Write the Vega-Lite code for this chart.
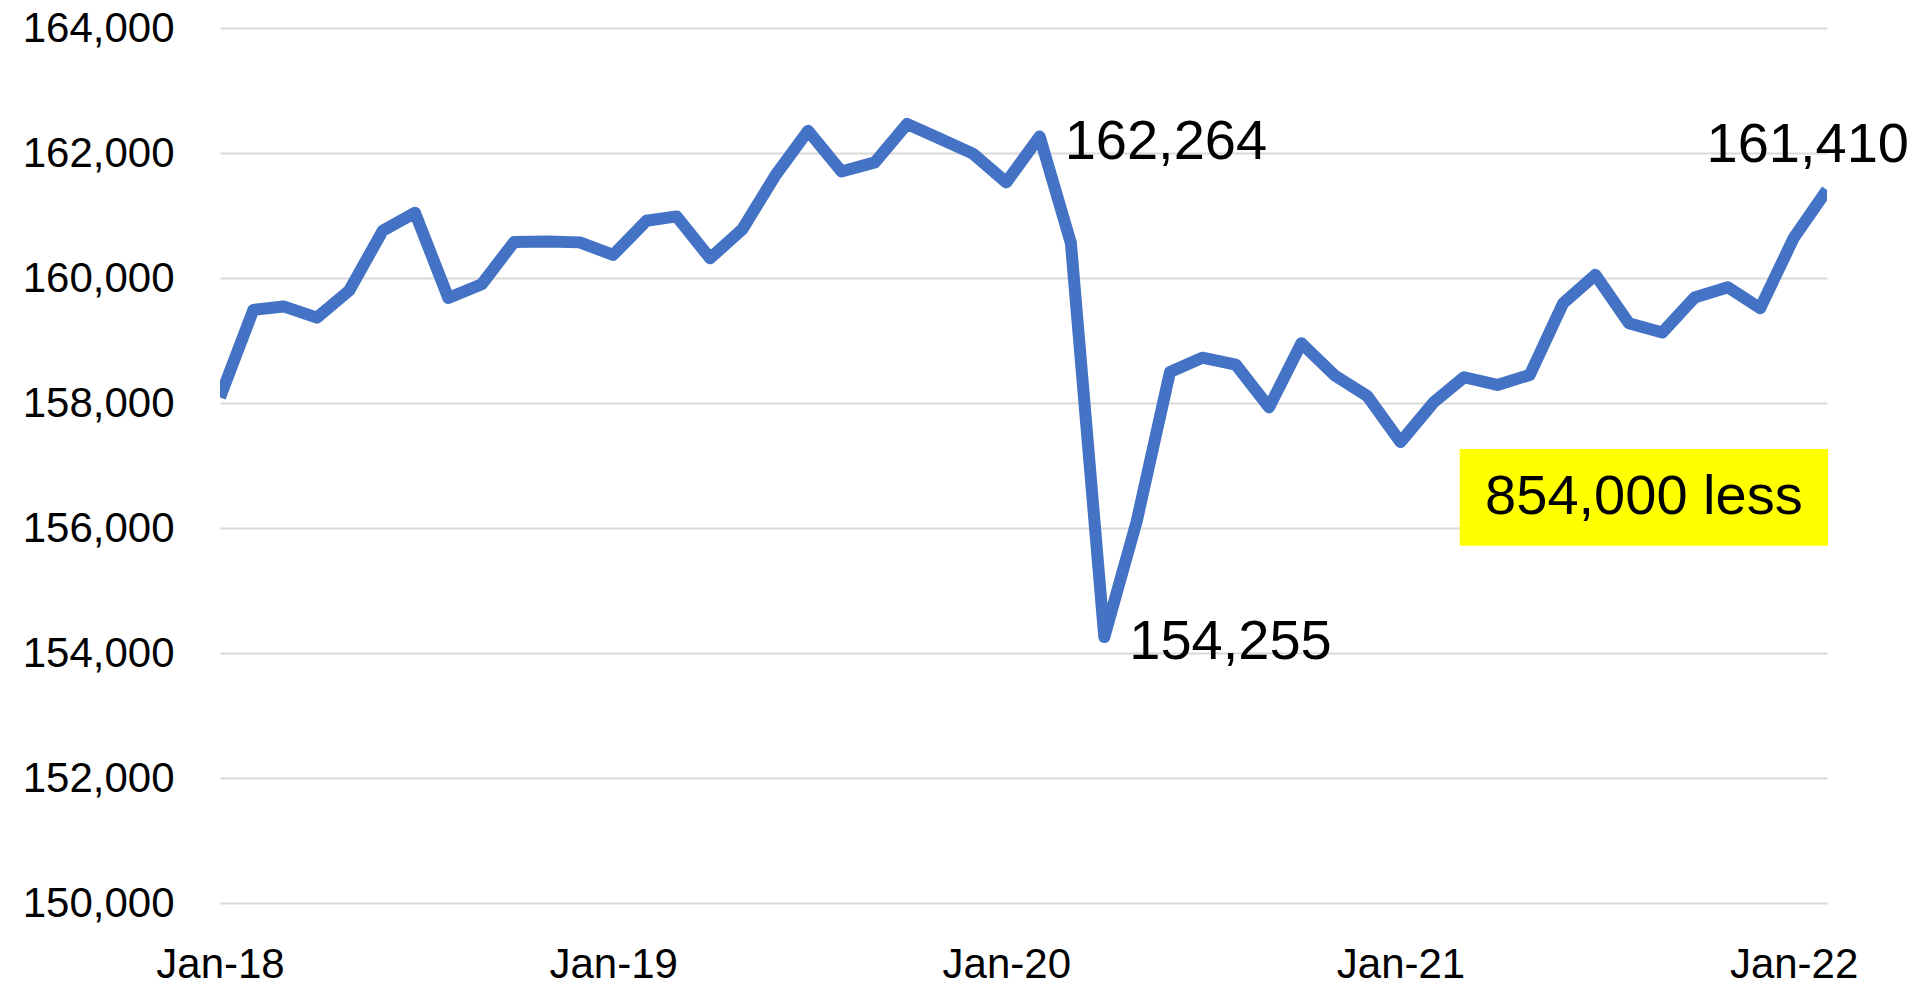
{
  "$schema": "https://vega.github.io/schema/vega-lite/v6.json",
  "width": 1607,
  "height": 875,
  "autosize": {"type": "none"},
  "padding": {"left": 220, "top": 28, "right": 90, "bottom": 82},
  "background": "white",
  "config": {
    "view": {"stroke": null},
    "font": "Liberation Sans",
    "axisX": {
      "title": null, "grid": false, "domain": false, "ticks": false, "tickSize": 0,
      "labelFont": "Liberation Sans", "labelFontSize": 42, "labelColor": "#000000",
      "labelAngle": 0, "labelPadding": 74, "labelBaseline": "alphabetic",
      "labelOverlap": false, "labelFlush": false
    },
    "axisY": {
      "title": null, "grid": true, "gridColor": "#d9d9d9", "gridWidth": 2,
      "domain": false, "ticks": false, "tickSize": 0,
      "labelFont": "Liberation Sans", "labelFontSize": 42, "labelColor": "#000000",
      "labelPadding": 46
    }
  },
  "datasets": {
    "series": [
      {"date": "2018-01-01", "value": 158090},
      {"date": "2018-02-01", "value": 159490},
      {"date": "2018-03-01", "value": 159545},
      {"date": "2018-04-01", "value": 159365},
      {"date": "2018-05-01", "value": 159800},
      {"date": "2018-06-01", "value": 160755},
      {"date": "2018-07-01", "value": 161045},
      {"date": "2018-08-01", "value": 159680},
      {"date": "2018-09-01", "value": 159900},
      {"date": "2018-10-01", "value": 160575},
      {"date": "2018-11-01", "value": 160585},
      {"date": "2018-12-01", "value": 160570},
      {"date": "2019-01-01", "value": 160370},
      {"date": "2019-02-01", "value": 160915},
      {"date": "2019-03-01", "value": 160985},
      {"date": "2019-04-01", "value": 160315},
      {"date": "2019-05-01", "value": 160780},
      {"date": "2019-06-01", "value": 161650},
      {"date": "2019-07-01", "value": 162355},
      {"date": "2019-08-01", "value": 161705},
      {"date": "2019-09-01", "value": 161850},
      {"date": "2019-10-01", "value": 162465},
      {"date": "2019-11-01", "value": 162225},
      {"date": "2019-12-01", "value": 161990},
      {"date": "2020-01-01", "value": 161530},
      {"date": "2020-02-01", "value": 162264, "note": "peak"},
      {"date": "2020-03-01", "value": 160560},
      {"date": "2020-04-01", "value": 154255, "note": "low"},
      {"date": "2020-05-01", "value": 156100},
      {"date": "2020-06-01", "value": 158495},
      {"date": "2020-07-01", "value": 158725},
      {"date": "2020-08-01", "value": 158615},
      {"date": "2020-09-01", "value": 157930},
      {"date": "2020-10-01", "value": 158957},
      {"date": "2020-11-01", "value": 158440},
      {"date": "2020-12-01", "value": 158115},
      {"date": "2021-01-01", "value": 157375},
      {"date": "2021-02-01", "value": 158015},
      {"date": "2021-03-01", "value": 158412},
      {"date": "2021-04-01", "value": 158289},
      {"date": "2021-05-01", "value": 158449},
      {"date": "2021-06-01", "value": 159597},
      {"date": "2021-07-01", "value": 160050},
      {"date": "2021-08-01", "value": 159277},
      {"date": "2021-09-01", "value": 159127},
      {"date": "2021-10-01", "value": 159687},
      {"date": "2021-11-01", "value": 159853},
      {"date": "2021-12-01", "value": 159517},
      {"date": "2022-01-01", "value": 160638},
      {"date": "2022-02-01", "value": 161410, "note": "latest"}
    ],
    "box": [
      {"start": "2021-02-25", "end": "2022-02-02", "top": 157265, "bottom": 155717, "mid": "2021-08-15", "midValue": 156500, "label": "854,000 less"}
    ]
  },
  "layer": [
    {
      "data": {"name": "series"},
      "mark": {"type": "line", "color": "#4472C4", "strokeWidth": 12, "strokeJoin": "round", "strokeCap": "butt", "clip": true},
      "encoding": {
        "x": {
          "field": "date", "type": "temporal",
          "scale": {"type": "utc", "domain": [{"year": 2018, "month": 1, "date": 1, "utc": true}, {"year": 2022, "month": 2, "date": 1, "utc": true}], "nice": false},
          "axis": {
            "values": [
              {"year": 2018, "month": 1, "date": 1, "utc": true},
              {"year": 2019, "month": 1, "date": 1, "utc": true},
              {"year": 2020, "month": 1, "date": 1, "utc": true},
              {"year": 2021, "month": 1, "date": 1, "utc": true},
              {"year": 2022, "month": 1, "date": 1, "utc": true}
            ],
            "labelExpr": "utcFormat(datum.value, '%b-%y')"
          }
        },
        "y": {
          "field": "value", "type": "quantitative",
          "scale": {"domain": [150000, 164000], "nice": false, "zero": false},
          "axis": {
            "values": [150000, 152000, 154000, 156000, 158000, 160000, 162000, 164000],
            "labelExpr": "format(datum.value, ',')"
          }
        }
      }
    },
    {
      "data": {"name": "series"},
      "transform": [{"filter": "datum.note == 'peak' || datum.note == 'low'"}],
      "mark": {"type": "text", "align": "left", "baseline": "alphabetic", "dx": 25, "dy": 22, "fontSize": 56, "font": "Liberation Sans", "color": "#000000"},
      "encoding": {
        "x": {"field": "date", "type": "temporal", "axis": {"labelExpr": "utcFormat(datum.value, '%b-%y')"}},
        "y": {"field": "value", "type": "quantitative", "axis": {"labelExpr": "format(datum.value, ',')"}},
        "text": {"field": "value", "type": "quantitative", "format": ","}
      }
    },
    {
      "data": {"name": "series"},
      "transform": [{"filter": "datum.note == 'latest'"}],
      "mark": {"type": "text", "align": "right", "baseline": "alphabetic", "dx": 82, "dy": -28, "fontSize": 56, "font": "Liberation Sans", "color": "#000000"},
      "encoding": {
        "x": {"field": "date", "type": "temporal", "axis": {"labelExpr": "utcFormat(datum.value, '%b-%y')"}},
        "y": {"field": "value", "type": "quantitative", "axis": {"labelExpr": "format(datum.value, ',')"}},
        "text": {"field": "value", "type": "quantitative", "format": ","}
      }
    },
    {
      "data": {"name": "box"},
      "mark": {"type": "rect", "color": "#FFFF00"},
      "encoding": {
        "x": {"field": "start", "type": "temporal", "axis": {"labelExpr": "utcFormat(datum.value, '%b-%y')"}},
        "x2": {"field": "end"},
        "y": {"field": "top", "type": "quantitative", "axis": {"labelExpr": "format(datum.value, ',')"}},
        "y2": {"field": "bottom"}
      }
    },
    {
      "data": {"name": "box"},
      "mark": {"type": "text", "align": "center", "baseline": "middle", "fontSize": 56, "font": "Liberation Sans", "color": "#000000"},
      "encoding": {
        "x": {"field": "mid", "type": "temporal", "axis": {"labelExpr": "utcFormat(datum.value, '%b-%y')"}},
        "y": {"field": "midValue", "type": "quantitative", "axis": {"labelExpr": "format(datum.value, ',')"}},
        "text": {"field": "label", "type": "nominal"}
      }
    }
  ]
}
